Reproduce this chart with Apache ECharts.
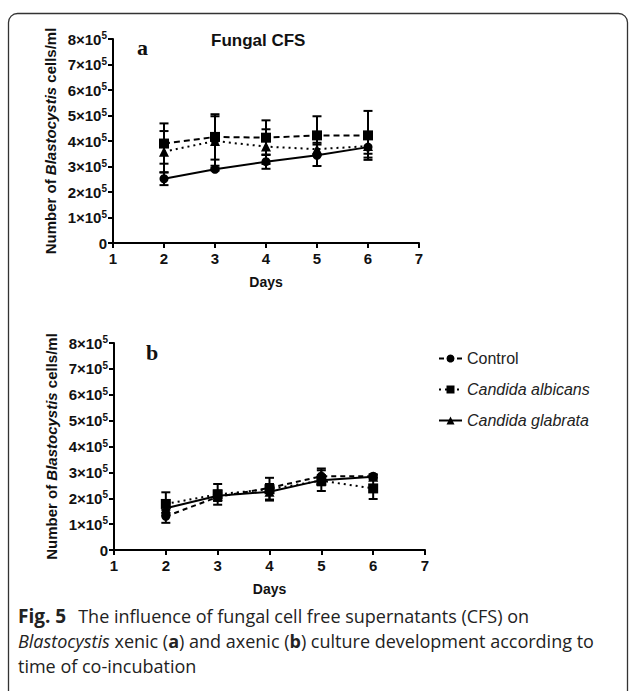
<!DOCTYPE html>
<html>
<head>
<meta charset="utf-8">
<script src="https://cdn.jsdelivr.net/npm/echarts@6/dist/echarts.min.js"></script>
<style>
html, body { margin: 0; padding: 0; background: #fff; }
#chart { width: 629px; height: 691px; }
</style>
</head>
<body>
<div id="chart"></div>
<script>
var chart = echarts.init(document.getElementById('chart'), null, { renderer: 'svg' });

// days of co-incubation
var days = [2, 3, 4, 5, 6];
var names = ['Control', 'Candida albicans', 'Candida glabrata'];

// values in units of 10^5 cells/ml
// panel a (xenic)
var aControl = [2.52, 2.89, 3.19, 3.44, 3.76];
var aControlErr = [0.25, 0.05, 0.28, 0.42, 0.41];
var aAlbicans = [3.90, 4.16, 4.13, 4.22, 4.22];
var aAlbicansErr = [0.79, 0.89, 0.68, 0.75, 0.96];
var aGlabrata = [3.58, 4.00, 3.78, 3.68, 3.80];
var aGlabrataErr = [0.81, 0.97, 0.68, 0.25, 0.30];

// panel b (axenic)
var bControl = [1.30, 2.05, 2.40, 2.85, 2.85];
var bControlErr = [0.25, 0.15, 0.15, 0.30, 0.05];
var bAlbicans = [1.78, 2.15, 2.35, 2.68, 2.38];
var bAlbicansErr = [0.45, 0.40, 0.44, 0.40, 0.41];
var bGlabrata = [1.61, 2.10, 2.25, 2.70, 2.83];
var bGlabrataErr = [0.20, 0.20, 0.30, 0.20, 0.10];

var yTicks = [0, 1, 2, 3, 4, 5, 6, 7, 8];
var xTicks = [1, 2, 3, 4, 5, 6, 7];

var FONT = 'Liberation Sans, Arial, sans-serif';
var CAP = 'Open Sans, Noto Sans, sans-serif';

function pts(vals) {
    var out = [];
    for (var i = 0; i < days.length; i++) out.push([days[i], vals[i]]);
    return out;
}
function errPts(vals, errs) {
    var out = [];
    for (var i = 0; i < days.length; i++) out.push([days[i], vals[i] - errs[i], vals[i] + errs[i]]);
    return out;
}

function renderErr(params, api) {
    var x = api.value(0);
    var top = api.coord([x, api.value(2)]);
    var bot = api.coord([x, api.value(1)]);
    var w = 4.5;
    var st = { stroke: '#000', lineWidth: 2 };
    return {
        type: 'group',
        children: [
            { type: 'line', shape: { x1: top[0], y1: top[1], x2: bot[0], y2: bot[1] }, style: st },
            { type: 'line', shape: { x1: top[0] - w, y1: top[1], x2: top[0] + w, y2: top[1] }, style: st },
            { type: 'line', shape: { x1: bot[0] - w, y1: bot[1], x2: bot[0] + w, y2: bot[1] }, style: st }
        ]
    };
}

function lineSeries(name, vals, idx, symbol, dash, size) {
    return {
        name: name,
        type: 'line',
        xAxisIndex: idx,
        yAxisIndex: idx,
        data: pts(vals),
        symbol: symbol,
        symbolSize: size,
        showSymbol: true,
        z: 5,
        itemStyle: { color: '#000' },
        lineStyle: { color: '#000', width: 2, type: dash },
        emphasis: { disabled: true }
    };
}

function errSeries(vals, errs, idx) {
    return {
        type: 'custom',
        xAxisIndex: idx,
        yAxisIndex: idx,
        renderItem: renderErr,
        data: errPts(vals, errs),
        encode: { x: 0, y: [1, 2] },
        z: 3,
        silent: true
    };
}

function xAxis(idx) {
    return {
        type: 'value',
        gridIndex: idx,
        min: xTicks[0],
        max: xTicks[xTicks.length - 1],
        interval: 1,
        name: 'Days',
        nameLocation: 'middle',
        nameGap: 32,
        nameTextStyle: { fontFamily: FONT, fontWeight: 'bold', fontSize: 14, color: '#111' },
        axisLine: { lineStyle: { color: '#000', width: 2 } },
        axisTick: { length: 5, lineStyle: { color: '#000', width: 2 } },
        axisLabel: { margin: 8, fontFamily: FONT, fontWeight: 'bold', fontSize: 15, color: '#111' },
        splitLine: { show: false }
    };
}

function yAxis(idx) {
    return {
        type: 'value',
        gridIndex: idx,
        min: yTicks[0],
        max: yTicks[yTicks.length - 1],
        interval: 1,
        name: '{n|Number of }{i|Blastocystis}{n| cells/ml}',
        nameLocation: 'middle',
        nameRotate: 90,
        nameGap: 55,
        nameTextStyle: {
            rich: {
                n: { fontFamily: FONT, fontWeight: 'bold', fontSize: 15, color: '#111' },
                i: { fontFamily: FONT, fontWeight: 'bold', fontStyle: 'italic', fontSize: 15, color: '#111' }
            }
        },
        axisLine: { show: true, lineStyle: { color: '#000', width: 2 } },
        axisTick: { show: true, length: 5, lineStyle: { color: '#000', width: 2 } },
        axisLabel: {
            margin: 6,
            formatter: function (v) {
                return v === 0 ? '{m|0}' : '{m|' + v + '×10}{s|5}';
            },
            rich: {
                m: { fontFamily: FONT, fontWeight: 'bold', fontSize: 15, color: '#111', lineHeight: 17 },
                s: { fontFamily: FONT, fontWeight: 'bold', fontSize: 10, color: '#111', lineHeight: 10, verticalAlign: 'top' }
            }
        },
        splitLine: { show: false }
    };
}

var option = {
    animation: false,
    backgroundColor: '#fff',
    grid: [
        { left: 113, top: 39, width: 306, height: 204 },
        { left: 114, top: 343, width: 311, height: 207 }
    ],
    xAxis: [xAxis(0), xAxis(1)],
    yAxis: [yAxis(0), yAxis(1)],
    legend: {
        orient: 'vertical',
        left: 433,
        top: 345,
        itemWidth: 23,
        itemHeight: 10,
        itemGap: 14,
        data: names,
        selectedMode: false,
        textStyle: { fontFamily: FONT, fontSize: 16, color: '#222', lineHeight: 17,
            rich: { i: { fontFamily: FONT, fontSize: 16, fontStyle: 'italic', color: '#222', lineHeight: 17 } } },
        formatter: function (n) { return n === 'Control' ? n : '{i|' + n + '}'; }
    },
    graphic: [
        { type: 'rect', silent: true, shape: { x: 8.5, y: 13.5, width: 619, height: 690, r: 9 },
          style: { fill: 'none', stroke: '#333', lineWidth: 1.3 } },
        { type: 'text', left: 211, top: 32,
          style: { text: 'Fungal CFS', fontFamily: FONT, fontWeight: 'bold', fontSize: 17, fill: '#111' } },
        { type: 'text', left: 137, top: 36,
          style: { text: 'a', fontFamily: 'Liberation Serif, serif', fontWeight: 'bold', fontSize: 22, fill: '#111' } },
        { type: 'text', left: 146, top: 341,
          style: { text: 'b', fontFamily: 'Liberation Serif, serif', fontWeight: 'bold', fontSize: 22, fill: '#111' } },
        { type: 'text', left: 18, top: 606,
          style: { text: '{b|Fig. 5}{g| }The influence of fungal cell free supernatants (CFS) on',
            fontFamily: CAP, fontSize: 18, fill: '#222',
            rich: { b: { fontFamily: CAP, fontWeight: 'bold', fontSize: 19, fill: '#222' },
                    g: { fontFamily: CAP, fontSize: 18, width: 12 } } } },
        { type: 'text', left: 18, top: 632,
          style: { text: '{i|Blastocystis} xenic ({b|a}) and axenic ({b|b}) culture development according to',
            fontFamily: CAP, fontSize: 18, fill: '#222',
            rich: { b: { fontFamily: CAP, fontWeight: 'bold', fontSize: 18, fill: '#222' },
                    i: { fontFamily: CAP, fontStyle: 'italic', fontSize: 18, fill: '#222' } } } },
        { type: 'text', left: 18, top: 657,
          style: { text: 'time of co-incubation', fontFamily: CAP, fontSize: 18, fill: '#222' } }
    ],
    series: [
        // panel b first so the legend takes its styles from it
        lineSeries(names[0], bControl, 1, 'circle', [5, 4], 9),
        lineSeries(names[1], bAlbicans, 1, 'rect', [2, 4], 10),
        lineSeries(names[2], bGlabrata, 1, 'triangle', 'solid', 10),
        errSeries(bControl, bControlErr, 1),
        errSeries(bAlbicans, bAlbicansErr, 1),
        errSeries(bGlabrata, bGlabrataErr, 1),
        // panel a
        lineSeries(names[0], aControl, 0, 'circle', 'solid', 9),
        lineSeries(names[1], aAlbicans, 0, 'rect', [6, 4], 10),
        lineSeries(names[2], aGlabrata, 0, 'triangle', [2, 4], 10),
        errSeries(aControl, aControlErr, 0),
        errSeries(aAlbicans, aAlbicansErr, 0),
        errSeries(aGlabrata, aGlabrataErr, 0)
    ]
};

chart.setOption(option);
</script>
</body>
</html>
